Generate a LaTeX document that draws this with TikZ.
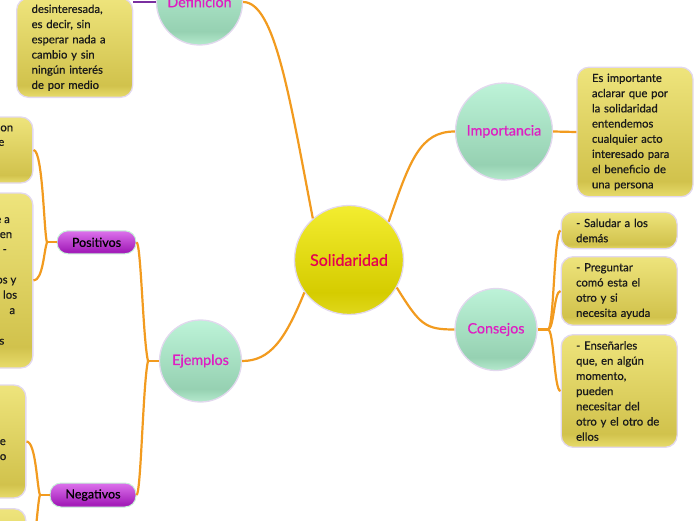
\documentclass[tikz,border=0pt]{standalone}
\usepackage{fontspec}
\setmainfont{Lato}[FakeBold=0.6]
\usepackage{tikz}

\definecolor{branch}{HTML}{F29B1F}
\definecolor{defline}{HTML}{7A2FA0}
\definecolor{rim}{HTML}{E2D8EE}
\definecolor{pillrim}{HTML}{C6F2D6}
\definecolor{topictext}{HTML}{DE1EC2}
\definecolor{centertext}{HTML}{E5004F}
\definecolor{notetext}{HTML}{1A1A1A}
\definecolor{noteTop}{HTML}{EEE47C}
\definecolor{noteDark}{HTML}{D1C24C}
\definecolor{noteLow}{HTML}{E8DC6C}
\definecolor{mintTop}{HTML}{BDF3D8}
\definecolor{mintDark}{HTML}{96D1B2}
\definecolor{mintLow}{HTML}{B5EACD}
\definecolor{sunTop}{HTML}{F3ED30}
\definecolor{sunDark}{HTML}{D5CC00}
\definecolor{sunLow}{HTML}{E0D81C}
\definecolor{pillTop}{HTML}{DC72EC}
\definecolor{pillDark}{HTML}{A21CB8}
\definecolor{pillLow}{HTML}{B234C6}

\pgfdeclareverticalshading{notefill}{100bp}{color(0bp)=(noteLow); color(25bp)=(noteLow); color(31bp)=(noteDark); color(75bp)=(noteTop); color(100bp)=(noteTop)}
\pgfdeclareverticalshading{mintfill}{100bp}{color(0bp)=(mintLow); color(25bp)=(mintLow); color(33bp)=(mintDark); color(75bp)=(mintTop); color(100bp)=(mintTop)}
\pgfdeclareverticalshading{sunfill}{100bp}{color(0bp)=(sunLow); color(25bp)=(sunLow); color(35bp)=(sunDark); color(75bp)=(sunTop); color(100bp)=(sunTop)}
\pgfdeclareverticalshading{pillfill}{100bp}{color(0bp)=(pillLow); color(25bp)=(pillLow); color(30bp)=(pillDark); color(75bp)=(pillTop); color(100bp)=(pillTop)}

\begin{document}
\begin{tikzpicture}[x=1pt, y=-1pt,
  hub/.style={shape=circle, draw=rim, line width=1.3pt, shade, shading=sunfill, text=centertext, font=\fontsize{16}{18}\selectfont, inner sep=0pt, minimum size=109pt},
  topic/.style={shape=circle, draw=rim, line width=1.3pt, shade, shading=mintfill, text=topictext, font=\fontsize{14.3}{16}\selectfont, inner sep=0pt},
  note/.style={rectangle, rounded corners=12pt, draw=rim, line width=1.3pt, shade, shading=notefill, text=notetext, font=\fontsize{11.3}{15.2}\selectfont, align=left, text width=86pt, inner xsep=15pt, inner ysep=6.5pt},
  blank/.style={rectangle, rounded corners=12pt, draw=rim, line width=1.3pt, shade, shading=notefill, minimum width=116pt},
  frag/.style={anchor=base east, inner sep=0pt, text=notetext, font=\fontsize{11.3}{15.2}\selectfont},
  pill/.style={rectangle, rounded corners=11pt, draw=pillrim, line width=1pt, shade, shading=pillfill, text=black, font=\fontsize{12.5}{14}\selectfont, inner sep=0pt},
  branch/.style={draw=branch, line width=2.2pt}]

\useasboundingbox (0,0) rectangle (696,520);
\clip (0,0) rectangle (696,520);

% main ideas
\node at (349,260) [hub] (solidaridad) {Solidaridad};
\node at (199.5,2) [topic, minimum size=86pt] (definicion) {Definición};
\node at (504,131.5) [topic, minimum size=97pt] (importancia) {Importancia};
\node at (496,329.5) [topic, minimum size=82pt] (consejos) {Consejos};
\node at (200.5,361) [topic, minimum size=82pt] (ejemplos) {Ejemplos};

% Definicion
\node at (16,98) [note, anchor=south west] (defnote) {desinteresada,\\es decir, sin\\esperar nada a\\cambio y sin\\ningún interés\\de por medio};

% Importancia
\node at (635,132) [note] (impnote) {Es importante\\aclarar que por\\la solidaridad\\entendemos\\cualquier acto\\interesado para\\el beneficio de\\una persona};

% Consejos
\node at (560.5,230.5) [note, anchor=west] (tip1) {- Saludar a los\\demás};
\node at (560.5,291) [note, anchor=west] (tip2) {- Preguntar\\comó esta el\\otro y si\\necesita ayuda};
\node at (560.5,391) [note, anchor=west] (tip3) {- Enseñarles\\que, en algún\\momento,\\pueden\\necesitar del\\otro y el otro de\\ellos};

% Ejemplos
\node at (96.5,242.3) [pill, minimum width=79pt, minimum height=23pt] (positivos) {Positivos};
\node at (93,495) [pill, minimum width=86pt, minimum height=24pt] (negativos) {Negativos};

\node at (33.5,150) [blank, anchor=east, minimum height=66pt] (pos1) {};
\node at (33.5,280.5) [blank, anchor=east, minimum height=175pt] (pos2) {};
\node at (26.5,441.5) [blank, anchor=east, minimum height=113pt] (neg1) {};
\node at (26.5,508) [blank, anchor=north east, minimum height=100pt] (neg2) {};

\node at (13.3,131.3) [frag] (pos1a) {on};
\node at (4.5,145.8) [frag] (pos1b) {e};
\node at (10,223) [frag] (pos2a) {e a};
\node at (12.3,238) [frag] (pos2b) {en};
\node at (7,253) [frag] (pos2c) {-};
\node at (16.5,283.5) [frag] (pos2d) {os y};
\node at (17.3,298.7) [frag] (pos2e) {los};
\node at (15.3,314) [frag] (pos2f) {a};
\node at (4.5,344.6) [frag] (pos2g) {s};
\node at (6,445) [frag] (neg1a) {e};
\node at (6.5,460) [frag] (neg1b) {o};

% forks
\coordinate (cfork) at (548,329.5);
\coordinate (efork) at (148,361);
\coordinate (pfork) at (47,242.3);
\coordinate (nfork) at (40,495);

% connectors
\draw [branch] (solidaridad.131) .. controls (290,100) and (275,2) .. (definicion.east);
\draw [branch] (solidaridad.44) .. controls (410,160) and (420,131.5) .. (importancia.west);
\draw [branch] (solidaridad.-30) .. controls (420,325) and (425,329.5) .. (consejos.west);
\draw [branch] (solidaridad.216) .. controls (285,340) and (270,361) .. (ejemplos.east);

\draw [draw=defline, line width=2.6pt] (definicion.west) -- (definicion.west -| defnote.east);
\draw [branch] (importancia.east) -- (impnote.west);

\draw [branch] (consejos.east) -- (cfork);
\draw [branch] (cfork) .. controls (554,329.5) and (554,230.5) .. (tip1.west);
\draw [branch] (cfork) .. controls (554,329.5) and (554,291) .. (tip2.west);
\draw [branch] (cfork) .. controls (554,329.5) and (554,391) .. (tip3.west);

\draw [branch] (ejemplos.west) -- (efork);
\draw [branch] (efork) .. controls (143,340) and (141,242.3) .. (positivos.east);
\draw [branch] (efork) .. controls (143,382) and (141,495) .. (negativos.east);

\draw [branch] (positivos.west) -- (pfork);
\draw [branch] (pfork) .. controls (44,235) and (43,150) .. (pos1.east);
\draw [branch] (pfork) .. controls (44,250) and (43,280.5) .. (pos2.east);

\draw [branch] (negativos.west) -- (nfork);
\draw [branch] (nfork) .. controls (37,488) and (36,441.5) .. (neg1.east);
\draw [branch] (nfork) .. controls (37,502) and (36,558) .. (neg2.east);
\end{tikzpicture}
\end{document}
